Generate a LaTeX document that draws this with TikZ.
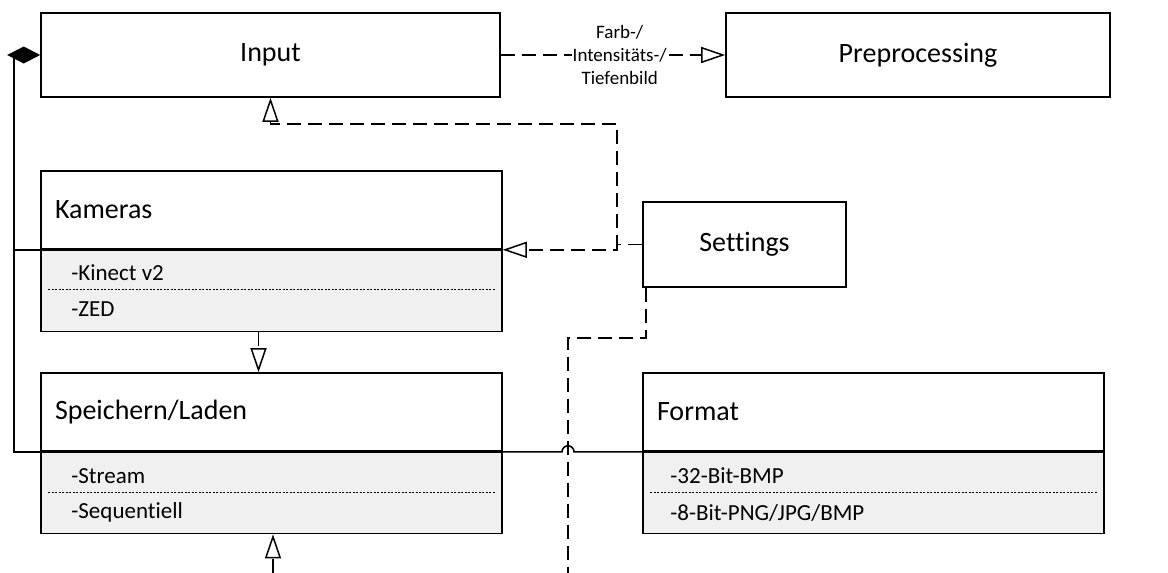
\documentclass[tikz,border=0pt]{standalone}
\usepackage{fontspec}
\setmainfont[Ligatures=NoCommon]{Carlito}
\usetikzlibrary{arrows.meta,positioning,calc}

\begin{document}
\begin{tikzpicture}[x=1pt,y=-1pt,
    box/.style={draw, line width=1.6pt, minimum height=84pt, inner sep=0pt,
      font=\fontsize{28}{30}\selectfont},
    cls/.style={draw, line width=1.6pt, minimum width=461pt, minimum height=78pt,
      inner xsep=14pt, inner ysep=0pt, text width=433pt, align=left,
      font=\fontsize{28}{30}\selectfont},
    attr/.style={draw, line width=1.6pt, fill=black!6, minimum width=461pt,
      minimum height=81pt, inner sep=0pt},
    item/.style={anchor=west, inner sep=0pt, font=\fontsize{23}{25}\selectfont},
    sep/.style={line width=1pt, dash pattern=on 2pt off 1.5pt},
    dep/.style={line width=1.5pt, dash pattern=on 14pt off 7pt},
    realize/.style={dep, -{Triangle[open, length=24pt, width=16pt, line width=1.5pt]}},
    comp/.style={line width=1.6pt, -{Diamond[length=33pt, width=17pt]}},
    lbl/.style={fill=white, inner sep=1pt, align=center, font=\fontsize{19}{23}\selectfont}]
    \useasboundingbox (0,0) rectangle (1168,573);

    % top row
    \node [box, minimum width=459pt] (inp) at (270.5,55) {Input};
    \node [box, minimum width=384pt] (pre) at (918,55) {Preprocessing};
    \node [box, minimum width=203pt, minimum height=85pt] (set) at (744.5,244.5) {Settings};

    % classes
    \node [cls] (kam) at (271.5,210) {Kameras};
    \node [attr, below=0pt of kam] (kamA) {};
    \node [item] (kam1) at ($(kamA.north west)+(31,23)$) {-Kinect v2};
    \node [item] (kam2) at ($(kamA.north west)+(31,59)$) {-ZED};
    \draw [sep] ($(kamA.north west)+(8,40)$) -- ($(kamA.north east)+(-8,40)$);

    \node [cls] (spe) at (271.5,412) {Speichern/Laden};
    \node [attr, below=0pt of spe] (speA) {};
    \node [item] (spe1) at ($(speA.north west)+(31,24)$) {-Stream};
    \node [item] (spe2) at ($(speA.north west)+(31,61)$) {-Sequentiell};
    \draw [sep] ($(speA.north west)+(8,41)$) -- ($(speA.north east)+(-8,41)$);

    \node [cls] (fmt) at (873.5,412) {Format};
    \node [attr, below=0pt of fmt] (fmtA) {};
    \node [item] (fmt1) at ($(fmtA.north west)+(28,24)$) {-32-Bit-BMP};
    \node [item] (fmt2) at ($(fmtA.north west)+(28,61)$) {-8-Bit-PNG/JPG/BMP};
    \draw [sep] ($(fmtA.north west)+(8,41)$) -- ($(fmtA.north east)+(-8,41)$);

    % free ends at the bottom
    \coordinate (setEnd) at (568,573);
    \coordinate (speIn) at (273,573);

    % connectors
    \draw [realize] (inp.east) -- node [lbl, pos=0.53] {Farb-/\\Intensitäts-/\\Tiefenbild} (pre.west);
    \draw [realize] (set.west) -- ++(-25,0) |- ($(inp.south)+(0,26)$) -- (inp.south);
    \draw [realize] (set.west) -- ++(-25,0) |- (kamA.north east);
    \draw [dep] ($(set.south west)+(4,0)$) |- ($(setEnd)+(0,-235)$) -- (setEnd);
    \draw [realize] ($(kamA.south)+(-13,0)$) -- ($(spe.north)+(-13,0)$);
    \draw [realize] (speIn) -- (speIn |- speA.south);
    \draw [comp] (kamA.north west) -- ++(-26,0) |- (inp.west);
    \draw [line width=1.6pt] (speA.north west) -- ++(-26,0) -- ($(kamA.north west)+(-26,0)$);
    \draw [line width=1.6pt] (speA.north east) -- ($(speA.north east -| setEnd)+(-6,0)$)
      arc [start angle=180, end angle=0, radius=6pt] -- (fmtA.north west);
\end{tikzpicture}
\end{document}
